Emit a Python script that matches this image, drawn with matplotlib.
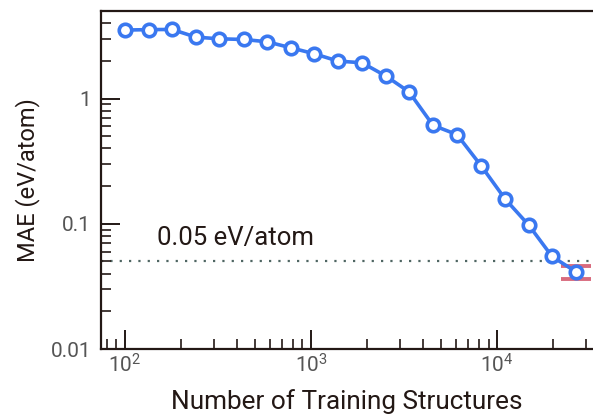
import numpy as np
import matplotlib
matplotlib.use("Agg")
import matplotlib.pyplot as plt

plt.rcParams['font.family'] = ['Roboto', 'DejaVu Sans']
plt.rcParams['mathtext.default'] = 'regular'

# learning curve: training set size vs. mean absolute error
n_train = [100, 135, 179, 241, 320, 436, 580, 781, 1038, 1397,
           1880, 2531, 3365, 4529, 6095, 8204, 11040, 14860, 19760, 26590]
mae = [3.52, 3.55, 3.56, 3.09, 3.00, 2.96, 2.84, 2.54, 2.28, 1.99,
       1.93, 1.51, 1.13, 0.611, 0.515, 0.291, 0.158, 0.0969, 0.0548, 0.0413]
last_err_lo = 0.0363
last_err_hi = 0.0464
target = 0.05

blue = '#3a78f0'
ink = '#231815'
grey = '#555555'

fig = plt.figure(figsize=(5.93, 4.16), dpi=100)
ax = fig.add_axes([0.1703, 0.161, 0.8297, 0.8126])

ax.axhline(target, color='#4f6663', lw=1.6, ls=(0, (1, 3.2)), zorder=1)
ax.text(149, 0.0679, '0.05 eV/atom', fontsize=18.5, color=ink, va='baseline')

ax.errorbar([n_train[-1]], [mae[-1]],
            yerr=[[mae[-1] - last_err_lo], [last_err_hi - mae[-1]]],
            fmt='none', ecolor='#d86b7e', elinewidth=2.5, capsize=10.5,
            capthick=2.8, zorder=2)
ax.plot(n_train, mae, color=blue, lw=2.6, marker='o', ms=9,
        mfc='white', mec=blue, mew=2.6, zorder=3)

ax.set_xscale('log')
ax.set_yscale('log')
ax.set_xlim(74.3, 32800)
ax.set_ylim(0.01, 5.0)

ax.set_xticks([100, 1000, 10000])
ax.set_xticklabels(['$10^{2}$', '$10^{3}$', '$10^{4}$'])
ax.set_yticks([0.01, 0.1, 1])
ax.set_yticklabels(['0.01', '0.1', '1'])

for s in ['left', 'bottom', 'top']:
    ax.spines[s].set_color(ink)
    ax.spines[s].set_linewidth(1.6)
ax.spines['right'].set_visible(False)

ax.tick_params(which='major', direction='in', length=14, width=1.4,
               color=ink, labelcolor=grey, labelsize=15)
ax.tick_params(which='minor', direction='in', length=7, width=1.2, color=ink)
ax.tick_params(axis='y', pad=7)
ax.tick_params(axis='x', pad=3)
ax.tick_params(top=False, right=False, which='both')

ax.set_xlabel('Number of Training Structures', fontsize=18.8, color=ink, labelpad=9)
ax.set_ylabel('MAE (eV/atom)', fontsize=17, color=ink, labelpad=8)

fig.savefig('out.png', dpi=100)
